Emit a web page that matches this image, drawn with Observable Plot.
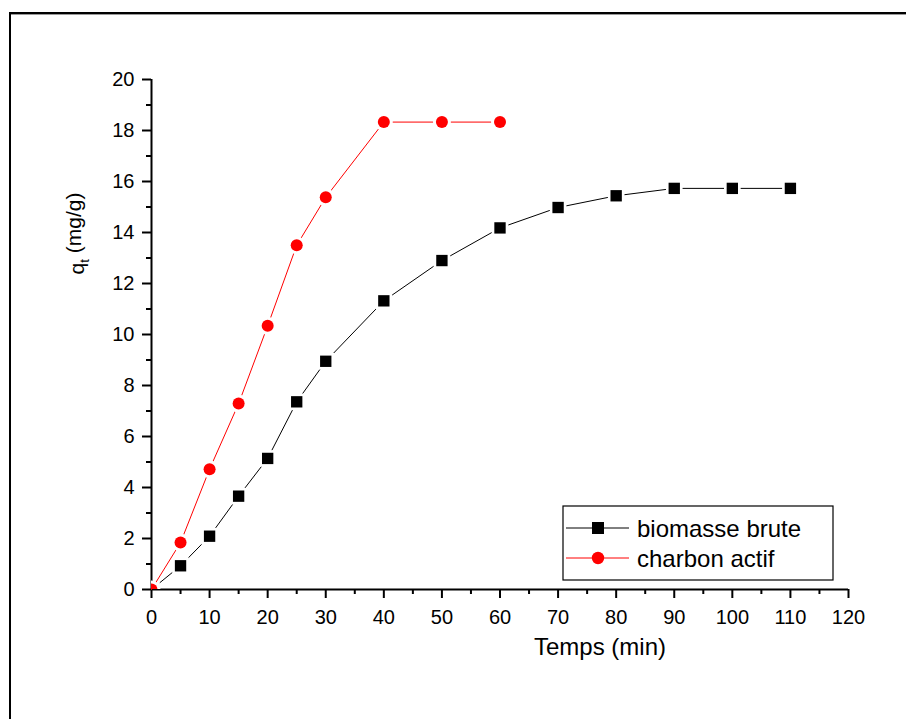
<!DOCTYPE html>
<html>
<head>
<meta charset="utf-8">
<script src="https://cdn.jsdelivr.net/npm/d3@7"></script>
<script src="https://cdn.jsdelivr.net/npm/@observablehq/plot@0.6"></script>
<style>
  body { margin: 0; background: #fff; font-family: "Liberation Sans", Arial, sans-serif; }
  #wrap { position: relative; width: 906px; height: 719px; overflow: hidden; }
  #frame { position: absolute; left: 9px; top: 12px; right: -4px; bottom: -4px;
           border-top: 2px solid #000; border-left: 2px solid #000;
           box-shadow: inset 0 1px 0 #999; }
  #chart { position: absolute; left: 0; top: 0; }
</style>
</head>
<body>
<div id="wrap"><div id="frame"></div><div id="chart"></div></div>
<script>
// ---- data ----
const timeBiomasse = [0, 5, 10, 15, 20, 25, 30, 40, 50, 60, 70, 80, 90, 100, 110];
const qBiomasse    = [0, 0.93, 2.09, 3.66, 5.14, 7.36, 8.95, 11.32, 12.90, 14.18, 14.98, 15.44, 15.73, 15.73, 15.73];
const timeCharbon  = [0, 5, 10, 15, 20, 25, 30, 40, 50, 60];
const qCharbon     = [0, 1.84, 4.72, 7.29, 10.34, 13.50, 15.38, 18.33, 18.33, 18.33];
const seriesNames  = ["biomasse brute", "charbon actif"];
const seriesColors = ["#000000", "#ff0000"];
const seriesSymbols = ["square", "circle"];
const xTicks      = [0, 10, 20, 30, 40, 50, 60, 70, 80, 90, 100, 110, 120];
const xMinorTicks = [5, 15, 25, 35, 45, 55, 65, 75, 85, 95, 105, 115];
const yTicks      = [0, 2, 4, 6, 8, 10, 12, 14, 16, 18, 20];
const yMinorTicks = [1, 3, 5, 7, 9, 11, 13, 15, 17, 19];
const xTitle = "Temps (min)";
const yTitle = "qt (mg/g)";

const biomasse = timeBiomasse.map((t, i) => ({t, q: qBiomasse[i]}));
const charbon  = timeCharbon.map((t, i) => ({t, q: qCharbon[i]}));

const font = "'Liberation Sans', Arial, sans-serif";

const plot = Plot.plot({
  width: 906,
  height: 719,
  marginLeft: 151,
  marginRight: 58,
  marginTop: 79,
  marginBottom: 130,
  x: {domain: [0, 120]},
  y: {domain: [0, 20]},
  style: {fontFamily: font, color: "#000", background: "transparent", overflow: "visible"},
  marks: [
    Plot.axisX({ticks: xTicks, tickSize: 9, tickPadding: 11, fontSize: 20, strokeWidth: 2, label: null}),
    Plot.axisX({ticks: xMinorTicks, tickSize: 5, tickFormat: () => "", strokeWidth: 2, label: null}),
    Plot.axisY({ticks: yTicks, tickSize: 9, tickPadding: 8, fontSize: 20, strokeWidth: 2, label: null}),
    Plot.axisY({ticks: yMinorTicks, tickSize: 5, tickFormat: () => "", strokeWidth: 2, label: null}),
    Plot.ruleY([0], {strokeWidth: 2}),
    Plot.ruleX([0], {strokeWidth: 2}),
    // biomasse brute
    Plot.line(biomasse, {x: "t", y: "q", stroke: seriesColors[0], strokeWidth: 1}),
    Plot.dot(biomasse, {x: "t", y: "q", symbol: seriesSymbols[0], r: 9.4, fill: "#fff", clip: true}),
    Plot.dot(biomasse, {x: "t", y: "q", symbol: seriesSymbols[0], r: 6.4, fill: seriesColors[0], clip: true}),
    // charbon actif
    Plot.line(charbon, {x: "t", y: "q", stroke: seriesColors[1], strokeWidth: 1}),
    Plot.dot(charbon, {x: "t", y: "q", symbol: seriesSymbols[1], r: 9, fill: "#fff", clip: true}),
    Plot.dot(charbon, {x: "t", y: "q", symbol: seriesSymbols[1], r: 6, fill: seriesColors[1], clip: true}),
    // titles
    Plot.text([xTitle], {text: d => d, frameAnchor: "bottom", dx: 100, dy: 65, fontSize: 24, fill: "#000"}),
    Plot.text([yTitle], {text: d => d, frameAnchor: "left", textAnchor: "middle", rotate: -90, dx: -74, dy: -101, fontSize: 21, fill: "#000"})
  ]
});

document.getElementById("chart").appendChild(plot);

// subscript t in the y title
const svg = d3.select(plot);
svg.selectAll("text").filter(function() { return this.textContent === yTitle; }).each(function() {
  const el = d3.select(this);
  el.text(null);
  el.append("tspan").text("q");
  el.append("tspan").attr("font-size", 13).attr("dy", "0.35em").text("t");
  el.append("tspan").attr("dy", "-0.35em").attr("font-size", 21).text(" (mg/g)");
});

// legend box
const legend = svg.append("g").attr("font-family", font).attr("text-anchor", "start");
legend.append("rect")
  .attr("x", 563).attr("y", 506).attr("width", 270).attr("height", 74)
  .attr("fill", "#fff").attr("stroke", "#000").attr("stroke-width", 1.2);
seriesNames.forEach((name, i) => {
  const cy = 528 + 30 * i;
  legend.append("line").attr("x1", 566).attr("x2", 629).attr("y1", cy).attr("y2", cy)
    .attr("stroke", seriesColors[i]).attr("stroke-width", 1);
  const sym = seriesSymbols[i] === "square" ? d3.symbolSquare : d3.symbolCircle;
  const size = seriesSymbols[i] === "square" ? 12 * 12 : Math.PI * 6.2 * 6.2;
  legend.append("path").attr("d", d3.symbol(sym, size)())
    .attr("transform", `translate(598,${cy})`).attr("fill", seriesColors[i]);
  legend.append("text").attr("x", 637).attr("y", cy).attr("dy", "0.36em")
    .attr("text-anchor", "start")
    .attr("font-size", 24).attr("fill", "#000").text(name);
});
</script>
</body>
</html>
